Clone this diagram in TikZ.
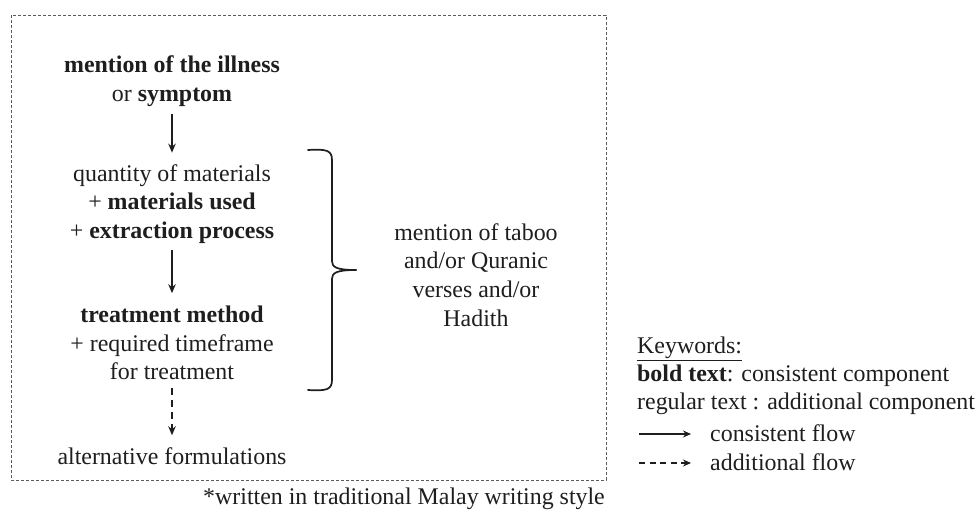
\documentclass[tikz,border=0pt]{standalone}
\usepackage{fontspec}
\setmainfont{Liberation Serif}
\usetikzlibrary{arrows.meta}
\definecolor{ink}{RGB}{30,30,30}
\definecolor{framec}{RGB}{90,90,90}
\begin{document}
\begin{tikzpicture}[x=1pt,y=-1pt,
  txt/.style={align=center, inner sep=0pt, text=ink, font=\fontsize{23.9}{28.7}\selectfont},
  legtxt/.style={anchor=west, inner sep=0pt, text=ink, font=\fontsize{23.9}{28.7}\selectfont},
  flow/.style={draw=ink, line width=1.5pt, -{Stealth[length=9pt,width=7.5pt]}},
  addflow/.style={flow, dash pattern=on 7pt off 5pt},
  bracestyle/.style={draw=ink, line width=1.7pt, line cap=round},
  framestyle/.style={draw=framec, line width=0.9pt, dash pattern=on 3pt off 2pt}
]
\useasboundingbox (0,0) rectangle (977,513);
\fill[white] (0,0) rectangle (977,513);

% frame
\draw[framestyle] (11,15) rectangle (606,480);

% main flow
\node[txt] (ill) at (172,81) {\textbf{mention of the illness}\\or \textbf{symptom}};
\node[txt] (mat) at (172,204) {quantity of materials\\+ \textbf{materials used}\\+ \textbf{extraction process}};
\node[txt] (tre) at (172,343) {\textbf{treatment method}\\+ required timeframe\\for treatment};
\node[txt] (alt) at (172,456) {alternative formulations};

\draw[flow] ([yshift=-7pt]ill.south) -- ([yshift=11.5pt]mat.north);
\draw[flow] ([yshift=-6.5pt]mat.south) -- ([yshift=12.5pt]tre.north);
\draw[addflow] ([yshift=-7.5pt]tre.south) -- ([yshift=12pt]alt.north);

% brace
\draw[bracestyle] (308,150) .. controls (326,149) and (332,150) .. (332,160)
  -- (332,261) .. controls (332,267) and (336,270) .. (356,270);
\draw[bracestyle] (308,390) .. controls (326,391) and (332,390) .. (332,380)
  -- (332,279) .. controls (332,273) and (336,270) .. (356,270);

\node[txt] (taboo) at (476,275) {mention of taboo\\and/or Quranic\\verses and/or\\Hadith};

% footnote
\node[txt] (foot) at (404,499) {*written in traditional Malay writing style};

% legend
\node[legtxt] (kw) at (637,349) {\underline{Keywords:}};
\node[legtxt] (l1) at (637,376) {\textbf{bold text}: consistent component};
\node[legtxt] (l2) at (637,404) {regular text : additional component};
\node[legtxt] (l3) at (710,433) {consistent flow};
\node[legtxt] (l4) at (710,462) {additional flow};
\coordinate (c3) at (639,434);
\coordinate (c4) at (639,463);
\draw[flow, line width=1.3pt, -{Stealth[length=8pt,width=7pt]}] (c3) -- ([xshift=-19pt]l3.west |- c3);
\draw[flow, line width=1.3pt, dash pattern=on 6pt off 4.5pt, -{Stealth[length=8pt,width=7pt]}] (c4) -- ([xshift=-19pt]l4.west |- c4);
\end{tikzpicture}
\end{document}
